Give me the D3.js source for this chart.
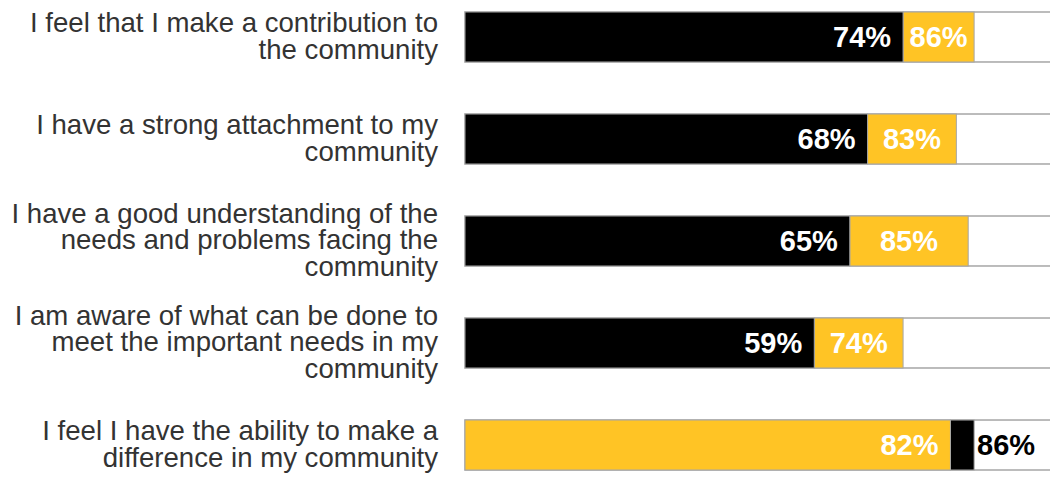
<!DOCTYPE html>
<html>
<head>
<meta charset="utf-8">
<script src="https://cdn.jsdelivr.net/npm/d3@7"></script>
<style>
  html, body { margin: 0; padding: 0; background: #fff; }
  svg { display: block; }
</style>
</head>
<body>
<svg id="chart" width="1050" height="485"></svg>
<script>
// ---- data ----
const categories = [
  "I feel that I make a contribution to\nthe community",
  "I have a strong attachment to my\ncommunity",
  "I have a good understanding of the\nneeds and problems facing the\ncommunity",
  "I am aware of what can be done to\nmeet the important needs in my\ncommunity",
  "I feel I have the ability to make a\ndifference in my community"
];
const blackValues = [74, 68, 65, 59, 86];
const goldValues  = [86, 83, 85, 74, 82];

// ---- style ----
const BLACK = "#000000";
const GOLD = "#FFC425";
const BORDER = "#a6a6a6";
const FONT = "'Liberation Sans', Arial, sans-serif";

const svg = d3.select("#chart");
const x = d3.scaleLinear().domain([0, 100]).range([465, 1057]);
const y = d3.scaleBand().domain(categories).range([12, 470]).paddingInner(0.51).paddingOuter(0);
const bh = y.bandwidth();

const rows = categories.map((c, i) => {
  const segs = [
    { key: "black", v: blackValues[i], color: BLACK },
    { key: "gold", v: goldValues[i], color: GOLD }
  ].sort((a, b) => a.v - b.v);
  return { cat: c, small: segs[0], big: segs[1] };
});

const g = svg.append("g");

rows.forEach(r => {
  const y0 = y(r.cat);
  g.append("rect")
    .attr("x", x(0)).attr("y", y0)
    .attr("width", x(100) - x(0)).attr("height", bh)
    .attr("fill", "#fff").attr("stroke", BORDER).attr("stroke-width", 1.5);
  g.append("rect")
    .attr("x", x(r.small.v)).attr("y", y0)
    .attr("width", x(r.big.v) - x(r.small.v)).attr("height", bh)
    .attr("fill", r.big.color).attr("stroke", BORDER).attr("stroke-width", 1);
  g.append("rect")
    .attr("x", x(0)).attr("y", y0)
    .attr("width", x(r.small.v) - x(0)).attr("height", bh)
    .attr("fill", r.small.color).attr("stroke", BORDER).attr("stroke-width", 1);

  const cy = y0 + bh / 2;
  g.append("text")
    .attr("x", x(r.small.v) - 12).attr("y", cy).attr("dy", "0.36em")
    .attr("text-anchor", "end")
    .attr("font-family", FONT).attr("font-size", 29).attr("font-weight", "bold")
    .attr("fill", "#fff")
    .text(r.small.v + "%");
  const segW = x(r.big.v) - x(r.small.v);
  const t = g.append("text")
    .attr("y", cy).attr("dy", "0.36em")
    .attr("font-family", FONT).attr("font-size", 29).attr("font-weight", "bold")
    .text(r.big.v + "%");
  const tw = t.node().getComputedTextLength();
  if (segW > tw + 6) {
    t.attr("x", (x(r.small.v) + x(r.big.v)) / 2).attr("text-anchor", "middle").attr("fill", "#fff");
  } else {
    t.attr("x", x(r.big.v) + 3).attr("text-anchor", "start").attr("fill", "#000");
  }
});

// category labels
const lineH = 26.5;
categories.forEach(c => {
  const lines = c.split("\n");
  const cy = y(c) + bh / 2;
  const t = g.append("text")
    .attr("text-anchor", "end")
    .attr("font-family", FONT).attr("font-size", 27.6)
    .attr("fill", "#333");
  lines.forEach((ln, j) => {
    t.append("tspan")
      .attr("x", 438)
      .attr("y", cy + (j - (lines.length - 1) / 2) * lineH)
      .attr("dy", "0.3em")
      .text(ln);
  });
});
</script>
</body>
</html>
